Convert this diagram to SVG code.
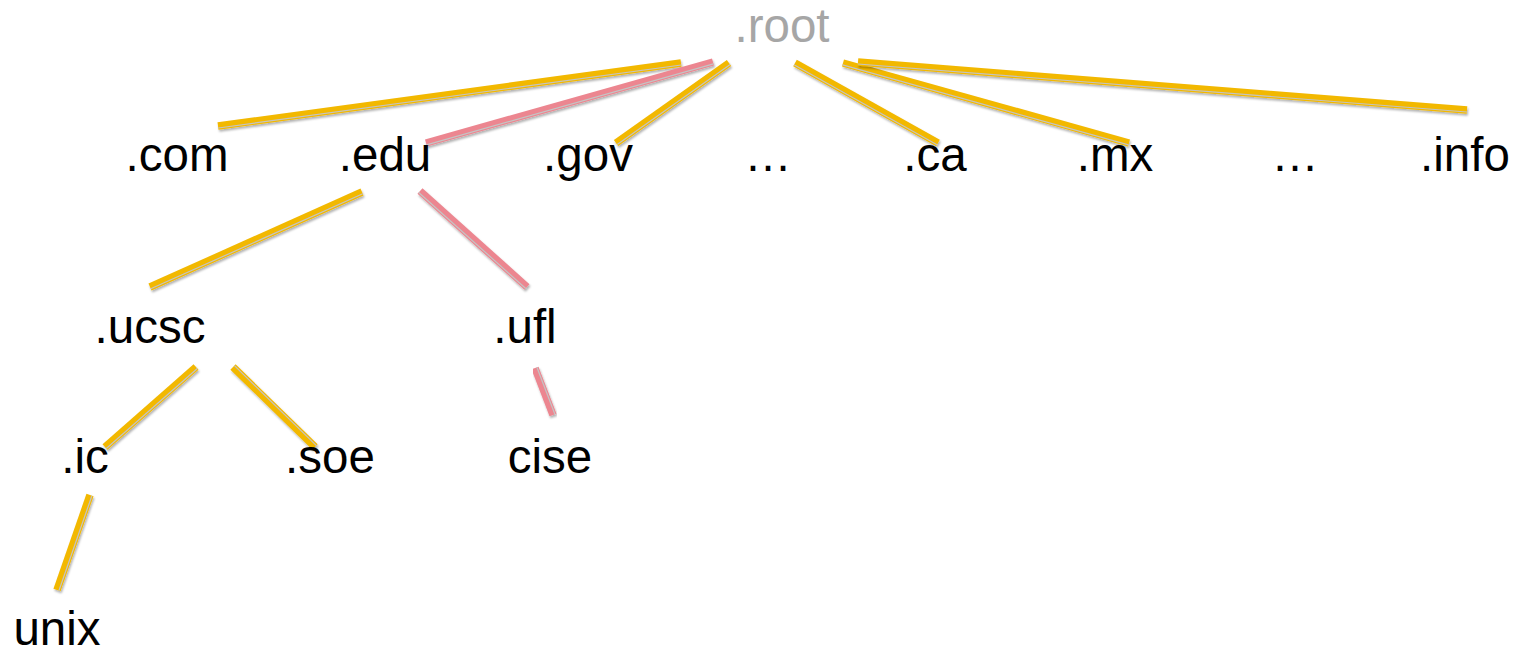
<svg xmlns="http://www.w3.org/2000/svg" width="1518" height="652" viewBox="0 0 1518 652">
<defs>
<filter id="sh" x="-10%" y="-10%" width="120%" height="130%">
<feDropShadow dx="1" dy="2" stdDeviation="1.2" flood-color="#000" flood-opacity="0.3"/>
</filter>
</defs>
<style>
.t{font-family:"Liberation Sans",Arial,sans-serif;font-size:47.5px;fill:#000;text-anchor:middle}
.root{fill:#A6A6A6}
.y{stroke:#F2B800;stroke-width:7.5}
.p{stroke:#EC8690;stroke-width:7.5}
.g{stroke:#C4C4C4;stroke-width:1.2}
.c{filter:url(#sh)}
</style>
<rect width="1518" height="652" fill="#fff"/>
<g id="connectors">
<g class="c"><line class="y" x1="218" y1="126" x2="681" y2="63"/><line class="g" x1="218.3" y1="128" x2="681.3" y2="65"/></g>
<g class="c"><line class="p" x1="426" y1="143" x2="713" y2="62"/><line class="g" x1="426.5" y1="144.9" x2="713.5" y2="63.9"/></g>
<g class="c"><line class="y" x1="616" y1="143" x2="729" y2="63"/><line class="g" x1="617.2" y1="144.6" x2="730.2" y2="64.6"/></g>
<g class="c"><line class="y" x1="795" y1="63" x2="938" y2="143"/><line class="g" x1="794" y1="64.7" x2="937" y2="144.7"/></g>
<g class="c"><line class="y" x1="843" y1="63" x2="1129" y2="143"/><line class="g" x1="842.5" y1="64.9" x2="1128.5" y2="144.9"/></g>
<g class="c"><line class="y" x1="858" y1="62" x2="1467" y2="110"/><line class="g" x1="857.8" y1="64" x2="1466.8" y2="112"/></g>
<g class="c"><line class="y" x1="150" y1="287" x2="362" y2="192"/><line class="g" x1="150.8" y1="288.8" x2="362.8" y2="193.8"/></g>
<g class="c"><line class="p" x1="420" y1="191" x2="527" y2="287"/><line class="g" x1="418.7" y1="192.5" x2="525.7" y2="288.5"/></g>
<g class="c"><line class="y" x1="105" y1="447" x2="196" y2="367"/><line class="g" x1="106.3" y1="448.5" x2="197.3" y2="368.5"/></g>
<g class="c"><line class="y" x1="233" y1="367" x2="315" y2="447"/><line class="g" x1="234.4" y1="365.6" x2="316.4" y2="445.6"/></g>
<g class="c"><line class="p" x1="535" y1="368" x2="553" y2="415"/><line class="g" x1="536.9" y1="367.3" x2="554.9" y2="414.3"/></g>
<g class="c"><line class="y" x1="90" y1="495" x2="57" y2="590"/><line class="g" x1="91.9" y1="495.7" x2="58.9" y2="590.7"/></g>
</g>
<g id="n-root"><text class="t root" x="782" y="42">.root</text></g>
<g id="n-com"><text class="t" x="177" y="171">.com</text></g>
<g id="n-edu"><text class="t" x="385" y="171">.edu</text></g>
<g id="n-gov"><text class="t" x="588" y="171">.gov</text></g>
<g id="n-dots1"><text class="t" x="768" y="171">…</text></g>
<g id="n-ca"><text class="t" x="935" y="171">.ca</text></g>
<g id="n-mx"><text class="t" x="1115" y="171">.mx</text></g>
<g id="n-dots2"><text class="t" x="1295" y="171">…</text></g>
<g id="n-info"><text class="t" x="1465" y="171">.info</text></g>
<g id="n-ucsc"><text class="t" x="150" y="343">.ucsc</text></g>
<g id="n-ufl"><text class="t" x="525" y="343">.ufl</text></g>
<g id="n-ic"><text class="t" x="85" y="473">.ic</text></g>
<g id="n-soe"><text class="t" x="330" y="473">.soe</text></g>
<g id="n-cise"><text class="t" x="550" y="473">cise</text></g>
<g id="n-unix"><text class="t" x="57" y="645">unix</text></g>
</svg>
